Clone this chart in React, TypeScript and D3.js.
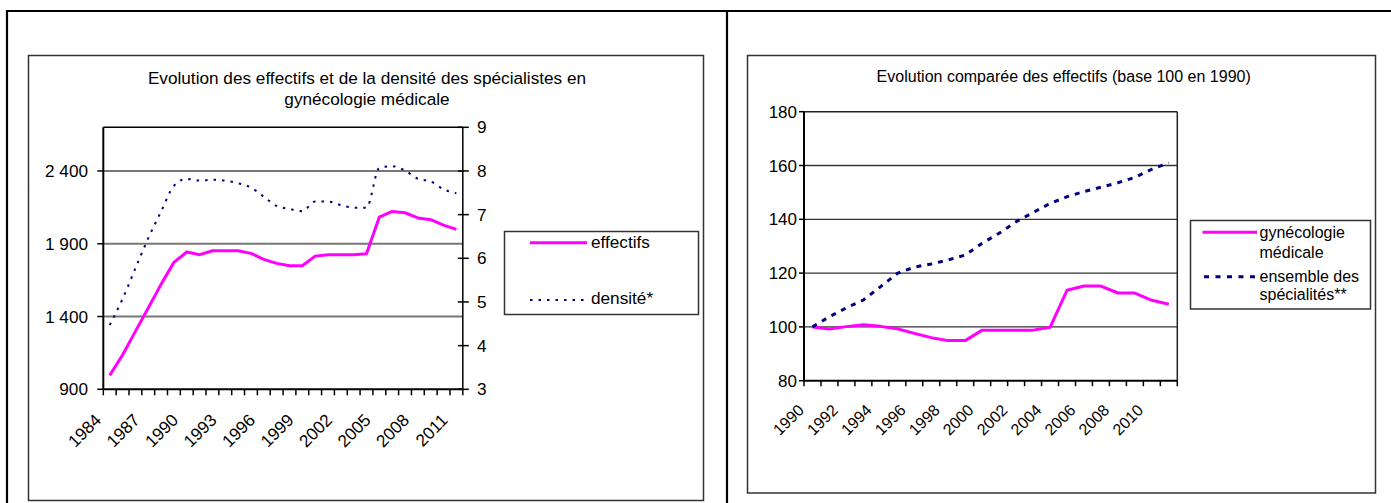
import React from "react";
import * as d3 from "d3";

// ---- Left chart data ----
const years1 = [1984, 1985, 1986, 1987, 1988, 1989, 1990, 1991, 1992, 1993, 1994, 1995, 1996, 1997, 1998, 1999, 2000, 2001, 2002, 2003, 2004, 2005, 2006, 2007, 2008, 2009, 2010, 2011];
const effectifs = [996, 1136, 1298, 1458, 1621, 1772, 1843, 1825, 1852, 1852, 1852, 1834, 1793, 1765, 1749, 1749, 1815, 1825, 1825, 1825, 1831, 2083, 2122, 2113, 2077, 2065, 2028, 1999];
const densite = [4.47, 5.07, 5.77, 6.46, 7.07, 7.66, 7.82, 7.78, 7.8, 7.78, 7.72, 7.62, 7.41, 7.2, 7.13, 7.08, 7.3, 7.3, 7.22, 7.16, 7.16, 8.07, 8.11, 8.01, 7.82, 7.76, 7.58, 7.49];
const leftTicks = [900, 1400, 1900, 2400];
const leftTickLabels = ["900", "1 400", "1 900", "2 400"];
const rightTicks = [3, 4, 5, 6, 7, 8, 9];
const xLabels1 = [1984, 1987, 1990, 1993, 1996, 1999, 2002, 2005, 2008, 2011];

// ---- Right chart data ----
const years2 = [1990, 1991, 1992, 1993, 1994, 1995, 1996, 1997, 1998, 1999, 2000, 2001, 2002, 2003, 2004, 2005, 2006, 2007, 2008, 2009, 2010, 2011];
const gyneco = [100, 99.2, 100.1, 100.8, 100.2, 99.3, 97.6, 96.0, 94.9, 94.9, 98.8, 98.8, 98.8, 98.8, 99.85, 113.6, 115.2, 115.2, 112.6, 112.6, 109.9, 108.4];
const ensemble = [100, 103.8, 107.1, 110, 114.9, 119.9, 122.2, 123.4, 124.9, 126.7, 131.1, 134.8, 139.1, 142.5, 145.9, 148.4, 150.3, 151.9, 153.6, 155.6, 158.6, 161.0];
const ticks2 = [80, 100, 120, 140, 160, 180];
const xLabels2 = [1990, 1992, 1994, 1996, 1998, 2000, 2002, 2004, 2006, 2008, 2010];

const FONT = "'Liberation Sans', Arial, sans-serif";
const MAGENTA = "#FF00FF";
const NAVY = "#000080";
const FS_L = 17.2;
const FS_R = 16;

function LeftChart() {
  const L = 103.3, R = 462.8, T = 127.3, B = 389.3;
  const x = d3.scaleBand<number>().domain(years1).range([L, R]).paddingInner(0).paddingOuter(0);
  const bw = x.bandwidth();
  const cx = (y: number) => (x(y) as number) + bw / 2;
  const yL = d3.scaleLinear().domain([900, 2700]).range([B, T]);
  const yR = d3.scaleLinear().domain([3, 9]).range([B, T]);
  const lineE = d3.line<number>().x((_, i) => cx(years1[i])).y((d) => yL(d));
  const lineD = d3.line<number>().x((_, i) => cx(years1[i])).y((d) => yR(d)).curve(d3.curveMonotoneX);
  const boundaries = years1.map((y) => x(y) as number).concat([R]);
  return (
    <g>
      <rect x={28.5} y={55.5} width={675} height={445} fill="#fff" stroke="#333" strokeWidth={1.5} />
      <text x={367} y={84} textAnchor="middle" fontFamily={FONT} fontSize={FS_L} fill="#000">Evolution des effectifs et de la densité des spécialistes en</text>
      <text x={367} y={105} textAnchor="middle" fontFamily={FONT} fontSize={FS_L} fill="#000">gynécologie médicale</text>
      {leftTicks.slice(1).map((t) => (
        <line key={"g" + t} x1={L} x2={R} y1={yL(t)} y2={yL(t)} stroke="#777" strokeWidth={2} />
      ))}
      <path d={lineE(effectifs) || ""} fill="none" stroke={MAGENTA} strokeWidth={3} strokeLinejoin="round" />
      <path d={lineD(densite) || ""} fill="none" stroke={NAVY} strokeWidth={2} strokeDasharray="2.5,6" />
      {/* plot frame */}
      <line x1={L} x2={R} y1={T} y2={T} stroke="#000" strokeWidth={1.5} />
      <line x1={L} x2={L} y1={T} y2={B} stroke="#000" strokeWidth={2} />
      <line x1={R} x2={R} y1={T} y2={B} stroke="#000" strokeWidth={1.5} />
      <line x1={L} x2={R} y1={B} y2={B} stroke="#000" strokeWidth={2} />
      {leftTicks.map((t, i) => (
        <g key={"l" + t}>
          <line x1={L - 6} x2={L} y1={yL(t)} y2={yL(t)} stroke="#000" strokeWidth={1.5} />
          <text x={88} y={yL(t)} dy="0.36em" textAnchor="end" fontFamily={FONT} fontSize={FS_L} fill="#000">{leftTickLabels[i]}</text>
        </g>
      ))}
      {rightTicks.map((t) => (
        <g key={"r" + t}>
          <line x1={R - 5} x2={R + 6} y1={yR(t)} y2={yR(t)} stroke="#000" strokeWidth={1.5} />
          <text x={477} y={yR(t)} dy="0.36em" textAnchor="start" fontFamily={FONT} fontSize={FS_L} fill="#000">{t}</text>
        </g>
      ))}
      {boundaries.map((bx, i) => (
        <line key={"t" + i} x1={bx} x2={bx} y1={B} y2={B + 6} stroke="#000" strokeWidth={1.5} />
      ))}
      {xLabels1.map((y) => (
        <text key={"x" + y} transform={`translate(${cx(y) - 7.5},${B + 32}) rotate(-45)`} textAnchor="end" fontFamily={FONT} fontSize={FS_L} fill="#000">{y}</text>
      ))}
      {/* legend */}
      <rect x={504.5} y={231.5} width={194} height={83} fill="#fff" stroke="#333" strokeWidth={1.5} />
      <line x1={530} x2={587} y1={242.7} y2={242.7} stroke={MAGENTA} strokeWidth={3} />
      <text x={591} y={248.3} fontFamily={FONT} fontSize={FS_L} fill="#000">effectifs</text>
      <line x1={530} x2={587} y1={300} y2={300} stroke={NAVY} strokeWidth={2} strokeDasharray="2.5,6" />
      <text x={591} y={304} fontFamily={FONT} fontSize={FS_L} fill="#000">densité*</text>
    </g>
  );
}

function RightChart() {
  const L = 804, R = 1177.3, T = 111.7, B = 380.7;
  const x = d3.scaleBand<number>().domain(years2).range([L, R]).paddingInner(0).paddingOuter(0);
  const bw = x.bandwidth();
  const cx = (y: number) => (x(y) as number) + bw / 2;
  const y = d3.scaleLinear().domain([80, 180]).range([B, T]);
  const lineG = d3.line<number>().x((_, i) => cx(years2[i])).y((d) => y(d));
  const boundaries = years2.map((v) => x(v) as number).concat([R]);
  return (
    <g>
      <rect x={747.5} y={55.5} width={628} height={437.5} fill="#fff" stroke="#333" strokeWidth={1.5} />
      <text x={1063.7} y={82} textAnchor="middle" fontFamily={FONT} fontSize={FS_R} fill="#000">Evolution comparée des effectifs (base 100 en 1990)</text>
      {ticks2.slice(1, -1).map((t) => (
        <line key={"g" + t} x1={L} x2={R} y1={y(t)} y2={y(t)} stroke="#333" strokeWidth={1.3} />
      ))}
      <path d={lineG(gyneco) || ""} fill="none" stroke={MAGENTA} strokeWidth={3} strokeLinejoin="round" />
      <path d={lineG(ensemble) || ""} fill="none" stroke={NAVY} strokeWidth={3} strokeDasharray="5,6" />
      <line x1={L} x2={R} y1={T} y2={T} stroke="#222" strokeWidth={1.5} />
      <line x1={R} x2={R} y1={T} y2={B} stroke="#222" strokeWidth={1.5} />
      <line x1={L} x2={L} y1={T} y2={B} stroke="#000" strokeWidth={2} />
      <line x1={L} x2={R} y1={B} y2={B} stroke="#000" strokeWidth={2} />
      {ticks2.map((t) => (
        <g key={"l" + t}>
          <line x1={L - 5} x2={L} y1={y(t)} y2={y(t)} stroke="#000" strokeWidth={1.5} />
          <text x={797} y={y(t)} dy="0.36em" textAnchor="end" fontFamily={FONT} fontSize={FS_R + 1} fill="#000">{t}</text>
        </g>
      ))}
      {boundaries.map((bx, i) => (
        <line key={"t" + i} x1={bx} x2={bx} y1={B} y2={B + 5.5} stroke="#000" strokeWidth={1.5} />
      ))}
      {xLabels2.map((v) => (
        <text key={"x" + v} transform={`translate(${cx(v) - 7.5},${B + 30.5}) rotate(-45)`} textAnchor="end" fontFamily={FONT} fontSize={FS_R} fill="#000">{v}</text>
      ))}
      {/* legend */}
      <rect x={1190.5} y={220.5} width={180} height={88.5} fill="#fff" stroke="#333" strokeWidth={1.5} />
      <line x1={1202.5} x2={1257} y1={232.3} y2={232.3} stroke={MAGENTA} strokeWidth={3} />
      <text x={1259.5} y={237.5} fontFamily={FONT} fontSize={FS_R} fill="#000">gynécologie</text>
      <text x={1259.5} y={257.5} fontFamily={FONT} fontSize={FS_R} fill="#000">médicale</text>
      <line x1={1204} x2={1257} y1={276.7} y2={276.7} stroke={NAVY} strokeWidth={3} strokeDasharray="5,6.5" />
      <text x={1259.5} y={281.5} fontFamily={FONT} fontSize={FS_R} fill="#000">ensemble des</text>
      <text x={1259.5} y={300} fontFamily={FONT} fontSize={FS_R} fill="#000">spécialités**</text>
    </g>
  );
}

export default function App() {
  return (
    <svg width={1391} height={503} viewBox="0 0 1391 503" style={{ position: "absolute", left: 0, top: 0, background: "#fff" }}>
      <rect x={0} y={0} width={1391} height={503} fill="#fff" />
      {/* outer table borders */}
      <line x1={6} x2={1391} y1={11} y2={11} stroke="#000" strokeWidth={2.2} />
      <line x1={7} x2={7} y1={10} y2={503} stroke="#000" strokeWidth={2.2} />
      <line x1={727} x2={727} y1={10} y2={503} stroke="#000" strokeWidth={2.2} />
      <LeftChart />
      <RightChart />
    </svg>
  );
}
